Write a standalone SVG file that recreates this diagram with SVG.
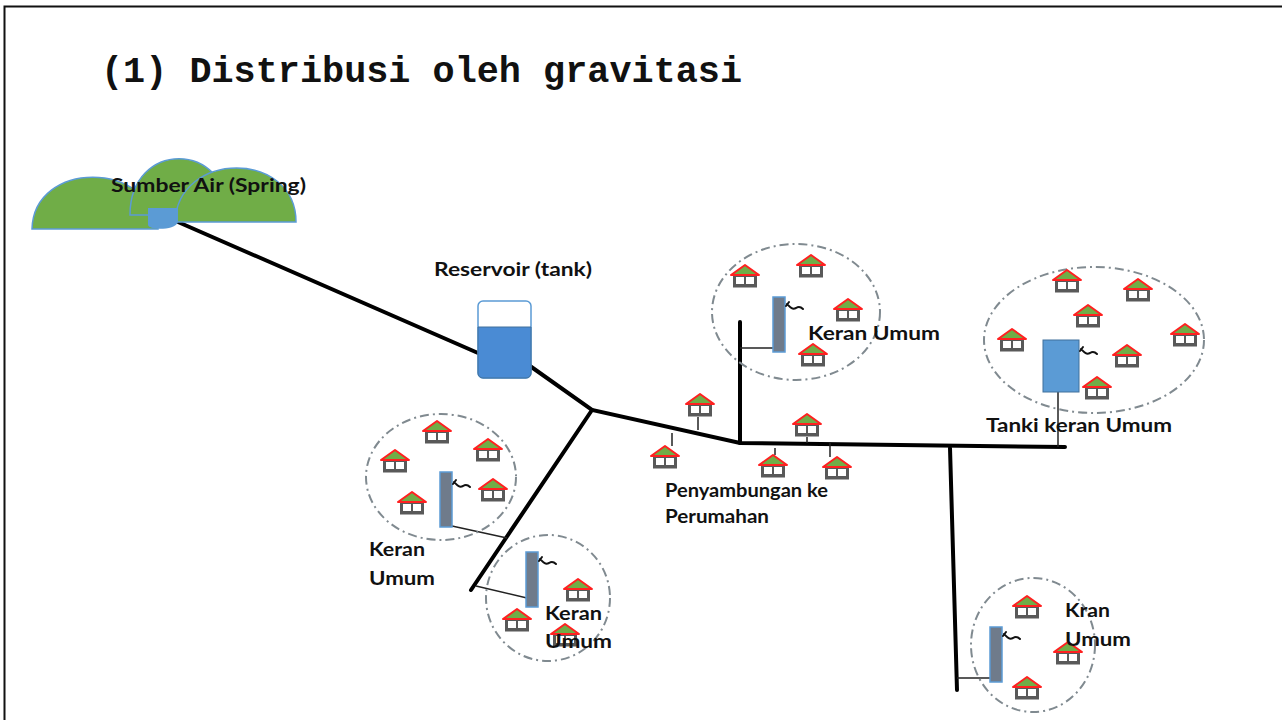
<svg xmlns="http://www.w3.org/2000/svg" xmlns:xlink="http://www.w3.org/1999/xlink" width="1282" height="720" viewBox="0 0 1282 720">
  <style>
    .lbl { font-family: Lato, "Open Sans", "Liberation Sans", sans-serif; font-weight: bold; font-size: 19px; fill: #111; }
    .title { font-family: "Liberation Mono", "DejaVu Sans Mono", monospace; font-weight: bold; font-size: 37px; fill: #111; }
    .pipe { stroke: #000; stroke-width: 4; fill: none; stroke-linecap: round; }
    .tap-line { stroke: #222; stroke-width: 1.5; fill: none; }
    .zone { fill: none; stroke: #808a90; stroke-width: 2; stroke-dasharray: 9 4 2 4; }
    .post { fill: #6f7b8b; stroke: #5b9bd5; stroke-width: 1.5; }
    .spout { stroke: #111; stroke-width: 2; fill: none; stroke-linecap: round; }
  </style>
  <defs>
    <!-- small house icon, centred on its bounding box (30 x 23) -->
    <g id="house">
      <rect x="-12" y="-1" width="24" height="12.5" fill="#595959"/>
      <rect x="-9" y="1" width="8" height="7" fill="#fff"/>
      <rect x="1" y="1" width="8" height="7" fill="#fff"/>
      <polygon points="-14,-1 0,-11 14,-1" fill="#70ad47" stroke="#ff2020" stroke-width="2" stroke-linejoin="round"/>
    </g>
    <!-- tap spout drawn from the top of a standpipe -->
    <path id="spout" class="spout" d="M0,0 l3,-4 M1,-2 c3,3 5,6 9,4 c3,-2 5,-1 7,1"/>
  </defs>

  <rect width="1282" height="720" fill="#fff"/>
  <!-- frame -->
  <path d="M4.5,720 V6.5 H1282" fill="none" stroke="#111" stroke-width="2"/>

  <text class="title" x="101" y="82" textLength="641" lengthAdjust="spacingAndGlyphs">(1) Distribusi oleh gravitasi</text>

  <!-- pipe network -->
  <g id="connectors">
    <path class="pipe" d="M178,222 L478,353"/>
    <path class="pipe" d="M530,366 L592,410 L740,443 L1065,447"/>
    <path class="pipe" d="M592,410 L471,590"/>
    <path class="pipe" d="M740,443 L740,322"/>
    <path class="pipe" d="M950,448 L957,690"/>
    <!-- service lines -->
    <path class="tap-line" d="M775,348 H740"/>
    <path class="tap-line" d="M1058,392 V447"/>
    <path class="tap-line" d="M452,526 L507,538"/>
    <path class="tap-line" d="M527,598 L476,586"/>
    <path class="tap-line" d="M990,678 H957"/>
    <path class="tap-line" d="M698,417 V430"/>
    <path class="tap-line" d="M672,433 V446"/>
    <path class="tap-line" d="M807,437 V443"/>
    <path class="tap-line" d="M775,448 V455"/>
    <path class="tap-line" d="M830,443 V457"/>
  </g>

  <!-- spring -->
  <g id="spring">
    <path d="M32,229 C34,160 150,160 158,229 Z" fill="#70ad47" stroke="#5b9bd5" stroke-width="1.5"/>
    <path d="M130,215 C130,140 228,140 228,215 Z" fill="#70ad47" stroke="#5b9bd5" stroke-width="1.5"/>
    <path d="M175,222 C178,150 296,150 296,222 Z" fill="#70ad47" stroke="#5b9bd5" stroke-width="1.5"/>
    <path d="M148,208 L178,208 L178,222 C176,230 150,231 148,225 Z" fill="#5b9bd5"/>
    <text class="lbl" x="111" y="192" textLength="195" lengthAdjust="spacingAndGlyphs">Sumber Air (Spring)</text>
  </g>

  <!-- reservoir -->
  <g id="reservoir">
    <rect x="478" y="301" width="53" height="77" rx="5" fill="#fff" stroke="#5b9bd5" stroke-width="1.5"/>
    <path d="M478,327 H531 V373 a5,5 0 0 1 -5,5 H483 a5,5 0 0 1 -5,-5 Z" fill="#4a8bd4" stroke="#41719c" stroke-width="1"/>
    <text class="lbl" x="434" y="276" textLength="158" lengthAdjust="spacingAndGlyphs">Reservoir (tank)</text>
  </g>

  <!-- standpipe, upper cluster -->
  <g id="tap-upper">
    <ellipse class="zone" cx="796" cy="312" rx="84" ry="68"/>
    <use xlink:href="#house" x="745" y="276"/>
    <use xlink:href="#house" x="811" y="266"/>
    <use xlink:href="#house" x="848" y="310"/>
    <use xlink:href="#house" x="813" y="355"/>
    <rect class="post" x="773" y="297" width="12" height="55"/>
    <use xlink:href="#spout" x="786" y="306"/>
    <text class="lbl" x="808" y="340" textLength="132" lengthAdjust="spacingAndGlyphs">Keran Umum</text>
  </g>

  <!-- public tank cluster -->
  <g id="tank-cluster">
    <ellipse class="zone" cx="1094" cy="340" rx="110" ry="73"/>
    <use xlink:href="#house" x="1067" y="281"/>
    <use xlink:href="#house" x="1138" y="290"/>
    <use xlink:href="#house" x="1088" y="316"/>
    <use xlink:href="#house" x="1012" y="340"/>
    <use xlink:href="#house" x="1185" y="335"/>
    <use xlink:href="#house" x="1127" y="356"/>
    <use xlink:href="#house" x="1097" y="388"/>
    <rect x="1043" y="340" width="36" height="52" fill="#5b9bd5" stroke="#41719c" stroke-width="1"/>
    <use xlink:href="#spout" x="1080" y="351"/>
    <text class="lbl" x="986" y="432" textLength="186" lengthAdjust="spacingAndGlyphs">Tanki keran Umum</text>
  </g>

  <!-- standpipe, left cluster -->
  <g id="tap-left">
    <ellipse class="zone" cx="441" cy="477" rx="75" ry="63"/>
    <use xlink:href="#house" x="437" y="432"/>
    <use xlink:href="#house" x="488" y="450"/>
    <use xlink:href="#house" x="395" y="461"/>
    <use xlink:href="#house" x="493" y="490"/>
    <use xlink:href="#house" x="412" y="503"/>
    <rect class="post" x="440" y="472" width="12" height="55"/>
    <use xlink:href="#spout" x="453" y="484"/>
    <text class="lbl" x="369" y="556" textLength="56" lengthAdjust="spacingAndGlyphs">Keran</text>
    <text class="lbl" x="369" y="585" textLength="66" lengthAdjust="spacingAndGlyphs">Umum</text>
  </g>

  <!-- standpipe, lower cluster -->
  <g id="tap-lower">
    <ellipse class="zone" cx="548" cy="598" rx="62" ry="63"/>
    <use xlink:href="#house" x="578" y="590"/>
    <use xlink:href="#house" x="517" y="620"/>
    <use xlink:href="#house" x="565" y="635"/>
    <rect class="post" x="526" y="552" width="12" height="55"/>
    <use xlink:href="#spout" x="539" y="561"/>
    <text class="lbl" x="545" y="620" textLength="57" lengthAdjust="spacingAndGlyphs">Keran</text>
    <text class="lbl" x="545" y="648" textLength="67" lengthAdjust="spacingAndGlyphs">Umum</text>
  </g>

  <!-- house connections -->
  <g id="house-connections">
    <use xlink:href="#house" x="700" y="405"/>
    <use xlink:href="#house" x="665" y="457"/>
    <use xlink:href="#house" x="807" y="425"/>
    <use xlink:href="#house" x="773" y="466"/>
    <use xlink:href="#house" x="837" y="468"/>
    <text class="lbl" x="665" y="497" textLength="163" lengthAdjust="spacingAndGlyphs">Penyambungan ke</text>
    <text class="lbl" x="665" y="523" textLength="104" lengthAdjust="spacingAndGlyphs">Perumahan</text>
  </g>

  <!-- standpipe, right cluster -->
  <g id="tap-right">
    <ellipse class="zone" cx="1033" cy="645" rx="62" ry="67"/>
    <use xlink:href="#house" x="1027" y="607"/>
    <use xlink:href="#house" x="1068" y="653"/>
    <use xlink:href="#house" x="1027" y="688"/>
    <rect class="post" x="990" y="627" width="12" height="55"/>
    <use xlink:href="#spout" x="1003" y="636"/>
    <text class="lbl" x="1065" y="617" textLength="45" lengthAdjust="spacingAndGlyphs">Kran</text>
    <text class="lbl" x="1065" y="646" textLength="66" lengthAdjust="spacingAndGlyphs">Umum</text>
  </g>
</svg>
